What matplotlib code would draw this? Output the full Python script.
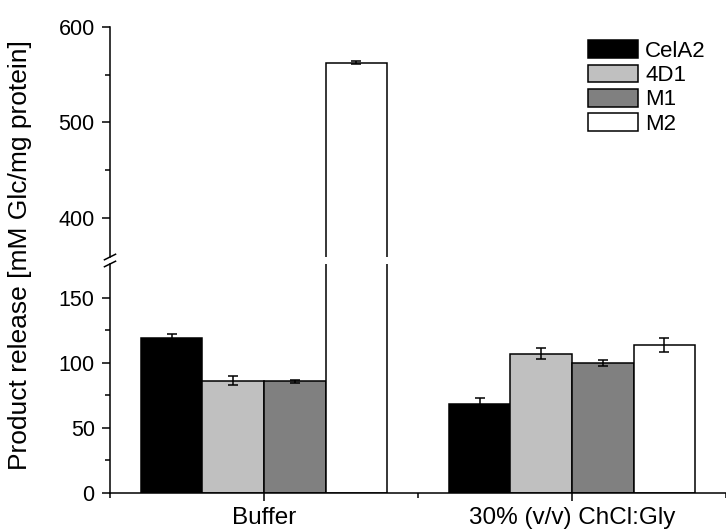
import matplotlib

matplotlib.use("Agg")
import matplotlib.pyplot as plt
import numpy as np

plt.rcParams["font.family"] = ["Liberation Sans", "DejaVu Sans"]

groups = ["Buffer", "30% (v/v) ChCl:Gly"]
enzymes = ["CelA2", "4D1", "M1", "M2"]
colors = ["#000000", "#c0c0c0", "#808080", "#ffffff"]
values = {
    "CelA2": [119.5, 68.2],
    "4D1": [86.2, 107.2],
    "M1": [85.9, 100.0],
    "M2": [562.8, 113.5],
}
errors = {
    "CelA2": [3.0, 5.0],
    "4D1": [3.5, 4.5],
    "M1": [1.0, 2.5],
    "M2": [1.2, 5.5],
}

fig = plt.figure(figsize=(7.26, 5.32), dpi=100)
ax_lo = fig.add_axes([0.1515, 0.0733, 0.8485, 0.4305])
ax_hi = fig.add_axes([0.1515, 0.5169, 0.8485, 0.4323], sharex=ax_lo)

x = np.arange(1, len(groups) + 1)
width = 0.2
for i, name in enumerate(enzymes):
    pos = x + (i - 1.5) * width
    for ax in (ax_lo, ax_hi):
        ax.bar(pos, values[name], width, color=colors[i], edgecolor="black",
               linewidth=1.1, label=name, zorder=2)
        ax.errorbar(pos, values[name], yerr=errors[name], fmt="none",
                    ecolor="black", elinewidth=1.1, capsize=3.6,
                    capthick=1.1, zorder=3)

ax_lo.set_ylim(0, 176)
ax_hi.set_ylim(359, 600)
ax_lo.set_xlim(0.5, 2.481)

for ax in (ax_lo, ax_hi):
    ax.spines["top"].set_visible(False)
    ax.spines["right"].set_visible(False)
    ax.spines["left"].set_linewidth(1.1)
    ax.tick_params(axis="both", which="major", direction="out", length=6,
                   width=1.1, labelsize=15.5, pad=5)
    ax.tick_params(axis="both", which="minor", direction="out", length=3.5,
                   width=1.1)
    ax.tick_params(axis="x", which="major", pad=4)
ax_hi.spines["bottom"].set_visible(False)
ax_lo.spines["bottom"].set_linewidth(1.1)

ax_lo.set_yticks([0, 50, 100, 150])
ax_lo.set_yticks([25, 75, 125], minor=True)
ax_hi.set_yticks([400, 500, 600])
ax_hi.set_yticks([450, 550], minor=True)

ax_lo.set_xticks(x)
ax_lo.set_xticklabels(groups, fontsize=17.5)
ax_lo.set_xticks([0.5, 1.5, 2.5], minor=True)
ax_hi.tick_params(axis="x", which="both", bottom=False, labelbottom=False)

# axis break marks
kw = dict(color="black", linewidth=1.1, clip_on=False)
for ax, yb in ((ax_lo, 1.0), (ax_hi, 0.0)):
    ax.plot([-0.009, 0.009], [yb - 0.012, yb + 0.012], transform=ax.transAxes, **kw)

fig.text(0.028, 0.521, "Product release [mM Glc/mg protein]", rotation=90,
         ha="center", va="center", fontsize=19)

ax_hi.legend(loc="upper left", bbox_to_anchor=(0.755, 1.0), frameon=False,
             fontsize=16, handlelength=2.25, handleheight=0.85,
             handletextpad=0.3, labelspacing=0.12, borderaxespad=0.2)

fig.savefig("out.png", dpi=100)
